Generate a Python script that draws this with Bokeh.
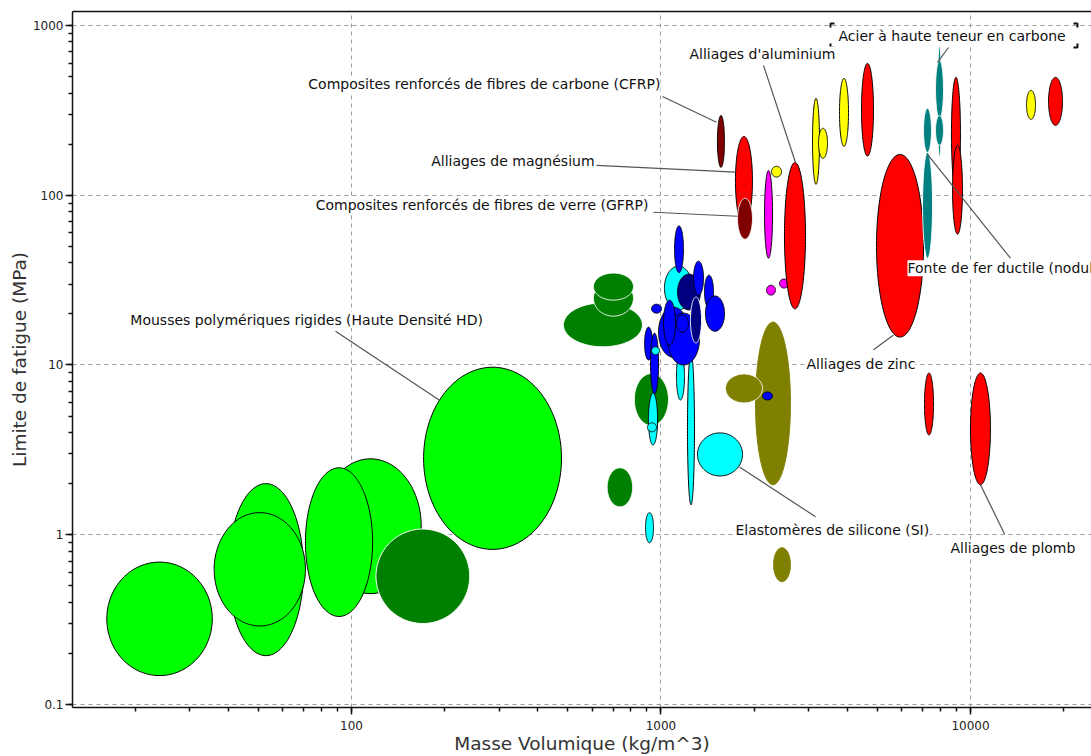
import numpy as np
from bokeh.plotting import figure
from bokeh.models import Label, ColumnDataSource, LogTicker, LogAxis, CustomJSTickFormatter
from bokeh.embed import file_html
from bokeh.resources import INLINE

# ---- material bubbles: density range (kg/m^3) and fatigue limit range (MPa) ----
family = ["foam", "foam", "foam", "foam", "foam", "foam", "green",
          "green", "green", "green", "green", "green",
          "cyan", "cyan", "cyan", "cyan", "cyan", "navy",
          "blue", "blue", "blue", "blue", "blue", "blue", "blue", "blue", "blue", "blue",
          "navy", "blue", "cyan", "cyan", "cyan",
          "olive", "olive", "blue", "olive",
          "maroon", "red", "maroon", "magenta", "yellow", "magenta", "magenta",
          "red", "yellow", "yellow", "yellow", "red", "red",
          "teal", "teal", "teal", "teal", "teal",
          "red", "red", "yellow", "red", "red", "red"]
dens_lo = [16.2, 40, 36, 79, 71, 171, 120,
           484, 605, 605, 820, 670,
           891, 1122, 1218, 1312, 1026, 1131,
           1106, 1274, 1382, 1392, 932, 885, 982, 1050, 1019, 1122,
           1245, 925, 911, 904, 932,
           2020, 1616, 2128, 2310,
           1522, 1740, 1767, 2160, 2275, 2192, 2416,
           2506, 3087, 3228, 3773, 4444, 4970,
           7000, 7050, 7824, 7710, 7710,
           8680, 8750, 15170, 17870, 7100, 10000]
dens_hi = [35.5, 70, 71, 168, 117, 477, 241,
           871, 815, 815, 1057, 810,
           946, 1191, 1283, 1834, 1264, 1341,
           1182, 1372, 1478, 1604, 1004, 939, 1227, 1331, 1114, 1227,
           1352, 982, 975, 967, 989,
           2620, 2128, 2293, 2620,
           1604, 1975, 1975, 2293, 2452, 2344, 2582,
           2930, 3252, 3451, 4035, 4860, 7050,
           7540, 7480, 8060, 8180, 8180,
           9280, 9420, 16220, 19830, 7595, 11600]
fat_lo = [0.148, 0.194, 0.29, 0.45, 0.33, 0.82, 0.30,
          12.8, 19.4, 24.1, 4.4, 1.46,
          0.897, 6.22, 1.50, 2.22, 21.1, 21.1,
          35, 25.8, 21.6, 15.8, 20.2, 10.7, 11.1, 10, 13.1, 15.6,
          13.5, 6.75, 3.38, 4.04, 11.5,
          1.97, 5.98, 6.22, 0.529,
          146, 66.6, 55.1, 42.6, 128, 25.8, 28.4,
          21.4, 116, 165, 194, 170, 14.6,
          42.6, 179, 167, 284, 197,
          107, 59, 280, 258, 3.87, 1.97]
fat_hi = [0.69, 2.0, 1.35, 2.8, 2.48, 9.7, 1.08,
          23.2, 31.6, 34.8, 8.9, 2.48,
          1.35, 11.8, 11.8, 3.98, 38.2, 34.3,
          66, 40.9, 33.8, 25.5, 22.8, 16.7, 21.9, 20.2, 24.1, 19.7,
          25.1, 15.4, 6.84, 4.56, 12.8,
          17.9, 8.85, 6.94, 0.839,
          295, 222, 96, 140, 148, 29.5, 32.1,
          156, 372, 248, 488, 598, 174,
          179, 325, 763, 623, 295,
          495, 197, 415, 495, 8.97, 8.97]
edge = ["k", "k", "k", "k", "k", "k", "w",
        "w", "w", "w", "w", "w",
        "k", "k", "k", "k", "k", "k",
        "k", "k", "k", "k", "k", "k", "k", "k", "k", "k",
        "w", "k", "k", "k", "k",
        "n", "w", "k", "n",
        "k", "k", "w", "k", "k", "k", "k",
        "k", "k", "k", "k", "k", "k",
        "w", "w", "w", "w", "w",
        "k", "k", "k", "k", "k", "k"]

family_color = {"foam": "#00FF00", "green": "#008000", "blue": "#0000FF",
                "navy": "#000080", "cyan": "#00FFFF", "olive": "#808000",
                "maroon": "#800000", "red": "#FF0000", "magenta": "#FF00FF",
                "yellow": "#FFFF00", "teal": "#008080"}
edge_color = {"k": "#000000", "w": "#FFFFFF"}

# ---- annotations ----
label_text = ["Composites renforcés de fibres de carbone (CFRP)",
              "Alliages de magnésium",
              "Composites renforcés de fibres de verre (GFRP)",
              "Alliages d'aluminium",
              "Acier à haute teneur en carbone",
              "Fonte de fer ductile (nodulaire)",
              "Mousses polymériques rigides (Haute Densité HD)",
              "Alliages de zinc",
              "Elastomères de silicone (SI)",
              "Alliages de plomb"]
label_x = [996, 610, 911, 1236, 3746, 6258, 19.3, 2952, 1740, 8617]
label_y = [450, 158.5, 87.3, 675, 862, 37.2, 18.4, 10.1, 1.07, 0.839]
label_align = ["right", "right", "right", "left", "left", "left", "left", "left", "left", "left"]
lead_x0 = [1011, 619, 946, 2144, 8490, 7261, 88.8, 4860, 1793, 10770]
lead_y0 = [382, 150, 79.4, 582, 742, 174, 15.8, 12.3, 2.51, 1.97]
lead_x1 = [1511, 1740, 1767, 2720, 7824, 13460, 192, 5640, 3157, 12880]
lead_y1 = [269, 137, 75.2, 156, 606, 42.6, 6.22, 15.0, 1.276, 1.01]

# selection-corner marks around the steel label
corner_xs = [[3529, 3529, 3635], [21510, 22160, 22160], [3529, 3529, 3635], [21510, 22160, 22160]]
corner_ys = [[973, 1027, 1027], [1027, 1027, 973], [783, 742, 742], [742, 742, 783]]

# ---- build ellipse outlines in log space ----
t = np.linspace(0, 2 * np.pi, 160)
xs, ys, fills, lines = [], [], [], []
for fam, a, b, c, d, e in zip(family, dens_lo, dens_hi, fat_lo, fat_hi, edge):
    la, lb, lc, ld = np.log10([a, b, c, d])
    cx, rx = (la + lb) / 2, (lb - la) / 2
    cy, ry = (lc + ld) / 2, (ld - lc) / 2
    xs.append(10 ** (cx + rx * np.cos(t)))
    ys.append(10 ** (cy + ry * np.sin(t)))
    fills.append(family_color[fam])
    lines.append(family_color[fam] if e == "n" else edge_color[e])

p = figure(width=1091, height=756, x_axis_type="log", y_axis_type="log",
           x_range=(12.55, 24600), y_range=(0.096, 1209),
           output_backend="svg", toolbar_location=None,
           min_border_left=72, min_border_right=0, min_border_top=11, min_border_bottom=48)
p.background_fill_color = "white"
p.border_fill_color = "white"
p.outline_line_color = None

for ax in (p.xaxis, p.yaxis):
    ax.ticker = LogTicker(num_minor_ticks=10)
    ax.formatter = CustomJSTickFormatter(code="return Number(tick.toPrecision(6)).toString();")
    ax.axis_line_color = "#111111"
    ax.axis_line_width = 1.5
    ax.major_tick_line_color = "#111111"
    ax.major_tick_line_width = 1.5
    ax.minor_tick_line_color = "#111111"
    ax.minor_tick_line_width = 1.5
    ax.major_tick_in = 0
    ax.major_tick_out = 7
    ax.minor_tick_in = 0
    ax.minor_tick_out = 4
    ax.major_label_text_font = "DejaVu Sans"
    ax.major_label_text_font_size = "12px"
    ax.major_label_text_color = "#222222"
    ax.axis_label_text_font = "DejaVu Sans"
    ax.axis_label_text_font_size = "18.5px"
    ax.axis_label_text_font_style = "normal"
    ax.axis_label_text_color = "#333333"

p.xaxis.axis_label = "Masse Volumique (kg/m^3)"
p.yaxis.axis_label = "Limite de fatigue (MPa)"
p.xaxis.major_label_standoff = 6
p.xaxis.axis_label_standoff = 0
p.yaxis.major_label_standoff = 2
p.yaxis.axis_label_standoff = 0

# top border line (no right border in the original)
top = LogAxis(ticker=LogTicker(), axis_line_color="#111111", axis_line_width=1.5,
              major_tick_line_color=None, minor_tick_line_color=None,
              major_tick_out=0, minor_tick_out=0, major_label_text_font_size="6px",
              major_label_text_alpha=0.0, major_label_standoff=0)
p.add_layout(top, "above")

for g in (p.xgrid, p.ygrid):
    g.grid_line_color = "#9a9a9a"
    g.grid_line_dash = "4 4"
    g.grid_line_width = 1

src = ColumnDataSource(dict(xs=xs, ys=ys, fill=fills, line=lines))
p.patches("xs", "ys", source=src, fill_color="fill", line_color="line", line_width=1)

p.segment(x0=lead_x0, y0=lead_y0, x1=lead_x1, y1=lead_y1, line_color="#555555", line_width=1.2)

for txt, lx, ly, al in zip(label_text, label_x, label_y, label_align):
    p.add_layout(Label(x=lx, y=ly, text=txt, text_align=al, text_baseline="middle",
                       text_font="DejaVu Sans", text_font_size="14px", text_color="#111111",
                       background_fill_color="white", background_fill_alpha=1.0))

p.multi_line(xs=corner_xs, ys=corner_ys, line_color="#111111", line_width=2)

open("out.html", "w").write(file_html(p, INLINE))
